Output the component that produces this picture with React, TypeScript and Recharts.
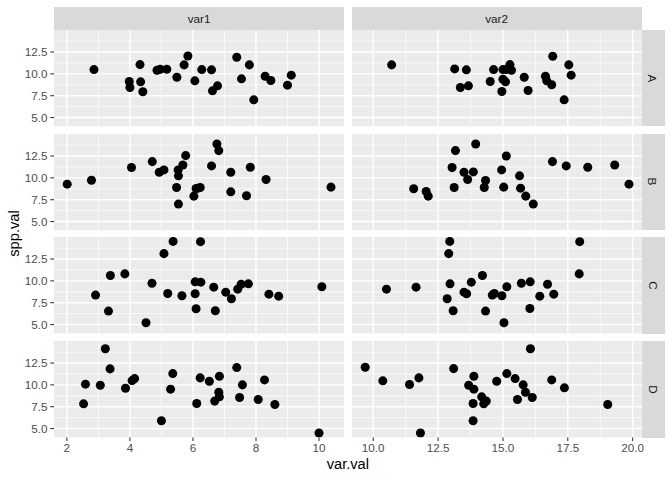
import React from 'react';
import { ScatterChart, Scatter, XAxis, YAxis, ZAxis, CartesianGrid } from 'recharts';

// ---- data ----
const rowLabels = ['A', 'B', 'C', 'D'];
const colLabels = ['var1', 'var2'];

const aVar1X = [2.86, 3.98, 4.0, 4.32, 4.34, 4.41, 4.86, 4.96, 5.17, 5.49, 5.72, 5.84, 6.06, 6.28, 6.59, 6.62, 6.78, 7.39, 7.54, 7.79, 7.93, 8.29, 8.47, 9.0, 9.12];
const aVar1Y = [10.49, 9.13, 8.44, 11.06, 9.09, 7.95, 10.42, 10.53, 10.53, 9.62, 11.03, 12.05, 9.2, 10.49, 10.46, 8.06, 8.63, 11.9, 9.43, 11.03, 7.03, 9.73, 9.24, 8.71, 9.85];
const aVar2X = [10.71, 13.14, 13.59, 13.36, 13.67, 14.64, 14.51, 15.0, 15.13, 15.27, 15.33, 15.0, 15.1, 14.96, 15.82, 15.97, 16.64, 16.69, 16.88, 16.92, 17.54, 17.63, 17.36];
const aVar2Y = [11.03, 10.57, 10.46, 8.44, 8.63, 10.49, 9.13, 10.49, 10.49, 11.06, 10.42, 9.39, 9.09, 7.98, 9.62, 8.1, 9.73, 9.2, 8.75, 12.02, 11.03, 9.85, 7.03];

const bVar1X = [2.01, 2.78, 4.05, 4.71, 4.93, 5.08, 5.48, 5.53, 5.54, 5.54, 5.68, 5.77, 6.03, 6.1, 6.16, 6.23, 6.59, 6.76, 6.82, 7.2, 7.2, 7.7, 7.82, 8.32, 10.38];
const bVar1Y = [9.28, 9.73, 11.18, 11.86, 10.65, 10.91, 8.9, 10.91, 10.23, 7.0, 11.48, 12.55, 7.91, 8.78, 8.82, 8.9, 11.37, 13.88, 13.12, 10.65, 8.4, 7.95, 11.22, 9.81, 8.94];
const bVar2X = [11.56, 12.04, 12.12, 13.04, 13.12, 13.17, 13.5, 13.64, 13.86, 13.95, 14.28, 14.33, 14.95, 15.03, 15.13, 15.64, 15.68, 15.88, 16.17, 16.91, 17.44, 18.27, 19.31, 19.86];
const bVar2Y = [8.75, 8.44, 7.91, 11.18, 8.9, 13.12, 10.65, 9.81, 10.68, 13.88, 8.9, 9.7, 10.91, 8.94, 12.51, 10.23, 8.82, 7.91, 7.0, 11.86, 11.37, 11.22, 11.48, 9.28];

const cVar1X = [2.91, 3.32, 3.38, 3.84, 4.51, 4.7, 5.08, 5.2, 5.37, 5.65, 6.07, 6.07, 6.1, 6.24, 6.25, 6.66, 6.71, 7.04, 7.22, 7.42, 7.53, 7.76, 8.41, 8.72, 10.09];
const cVar1Y = [8.37, 6.54, 10.61, 10.8, 5.21, 9.73, 13.12, 8.56, 14.52, 8.29, 9.89, 8.52, 6.81, 14.49, 9.85, 9.28, 6.58, 8.71, 7.95, 9.05, 9.62, 9.66, 8.48, 8.25, 9.32];
const cVar2X = [10.51, 11.65, 12.95, 12.91, 12.96, 12.85, 13.08, 13.5, 13.6, 13.78, 14.21, 14.33, 14.59, 14.67, 14.96, 15.04, 15.15, 15.71, 16.05, 16.04, 16.42, 16.72, 16.96, 17.96, 17.94];
const cVar2Y = [9.05, 9.28, 14.52, 13.12, 9.66, 7.95, 6.58, 8.71, 8.52, 9.85, 10.61, 6.54, 8.37, 8.56, 8.29, 5.21, 9.32, 9.73, 9.89, 6.84, 8.25, 9.62, 8.48, 14.49, 10.8];

const dVar1X = [2.53, 2.59, 3.06, 3.22, 3.37, 3.86, 4.07, 4.15, 5.0, 5.29, 5.36, 6.12, 6.23, 6.52, 6.69, 6.82, 6.84, 6.84, 7.39, 7.48, 7.57, 8.07, 8.27, 8.6, 10.0];
const dVar1Y = [7.83, 10.08, 9.96, 14.14, 11.83, 9.62, 10.49, 10.72, 5.89, 9.51, 11.29, 7.87, 10.8, 10.42, 8.14, 9.16, 8.63, 10.99, 11.98, 8.56, 10.0, 8.33, 10.57, 7.76, 4.49];
const dVar2X = [9.69, 10.37, 11.4, 11.76, 11.82, 13.1, 13.68, 13.88, 13.88, 13.85, 13.85, 14.18, 14.26, 14.36, 14.76, 15.15, 15.47, 15.56, 15.78, 15.87, 16.06, 16.13, 16.88, 17.37, 19.04];
const dVar2Y = [12.02, 10.46, 10.04, 10.8, 4.49, 11.86, 9.96, 10.99, 9.51, 7.87, 5.89, 8.63, 7.83, 8.14, 10.42, 11.29, 10.72, 8.33, 10.0, 9.16, 14.14, 8.56, 10.57, 9.66, 7.76];

const yTicks = [5, 7.5, 10, 12.5];
const yMinor = [6.25, 8.75, 11.25, 13.75];
const var1Ticks = [2, 4, 6, 8, 10];
const var1Minor = [3, 5, 7, 9];
const var2Ticks = [10, 12.5, 15, 17.5, 20];
const var2Minor = [11.25, 13.75, 16.25, 18.75];

// ---- layout ----
const FONT = '"Liberation Sans", Arial, Helvetica, sans-serif';
const PANEL_TOP = 30;
const PH = 96.4;
const GAP = 7.33;
const PW = 290.2;
const COL_LEFT = [54, 351.5];
const Y_W = 40;
const X_H = 30;
const X_PAD_R = 20;

const toPoints = (xs: number[], ys: number[]) => xs.map((x, i) => ({ x, y: ys[i] }));
const expand = (vals: number[]): [number, number] => {
  const mn = Math.min(...vals);
  const mx = Math.max(...vals);
  const r = mx - mn;
  return [mn - 0.05 * r, mx + 0.05 * r];
};

const panelData = [
  [toPoints(aVar1X, aVar1Y), toPoints(aVar2X, aVar2Y)],
  [toPoints(bVar1X, bVar1Y), toPoints(bVar2X, bVar2Y)],
  [toPoints(cVar1X, cVar1Y), toPoints(cVar2X, cVar2Y)],
  [toPoints(dVar1X, dVar1Y), toPoints(dVar2X, dVar2Y)],
];

const xDomains = [
  expand([...aVar1X, ...bVar1X, ...cVar1X, ...dVar1X]),
  expand([...aVar2X, ...bVar2X, ...cVar2X, ...dVar2X]),
];
const yDomain = expand([
  ...aVar1Y, ...bVar1Y, ...cVar1Y, ...dVar1Y,
  ...aVar2Y, ...bVar2Y, ...cVar2Y, ...dVar2Y,
]);
const xTicksByCol = [var1Ticks, var2Ticks];
const xMinorByCol = [var1Minor, var2Minor];
const xFmtByCol = [(v: number) => String(v), (v: number) => v.toFixed(1)];

const tickStyle = { fontSize: 11.7, fill: '#4D4D4D', fontFamily: FONT };
const tickLineStyle = { stroke: '#333333', strokeWidth: 1.07 };

function Panel({ row, col }: { row: number; col: number }) {
  const showX = row === 3;
  const showY = col === 0;
  const padR = showX ? X_PAD_R : 0;
  const w = PW + (showY ? Y_W : 0) + padR;
  const h = PH + (showX ? X_H : 0);
  const left = COL_LEFT[col] - (showY ? Y_W : 0);
  const top = PANEL_TOP + row * (PH + GAP);
  return (
    <div style={{ position: 'absolute', left, top }}>
      <ScatterChart width={w} height={h} margin={{ top: 0, right: padR, bottom: 0, left: 0 }}>
        <CartesianGrid
          horizontalValues={yMinor}
          verticalValues={xMinorByCol[col]}
          fill="#EBEBEB"
          fillOpacity={1}
          stroke="#FFFFFF"
          strokeWidth={0.71}
        />
        <CartesianGrid
          horizontalValues={yTicks}
          verticalValues={xTicksByCol[col]}
          fill="none"
          stroke="#FFFFFF"
          strokeWidth={1.42}
        />
        <XAxis
          type="number"
          dataKey="x"
          domain={xDomains[col]}
          ticks={xTicksByCol[col]}
          interval={0}
          allowDataOverflow
          hide={!showX}
          height={X_H}
          tickSize={3.67}
          tickMargin={2.93}
          axisLine={false}
          tickLine={tickLineStyle}
          tick={tickStyle}
          tickFormatter={xFmtByCol[col]}
        />
        <YAxis
          type="number"
          dataKey="y"
          domain={yDomain}
          ticks={yTicks}
          interval={0}
          allowDataOverflow
          hide={!showY}
          width={Y_W}
          tickSize={3.67}
          tickMargin={2.93}
          axisLine={false}
          tickLine={tickLineStyle}
          tick={tickStyle}
          tickFormatter={(v: number) => v.toFixed(1)}
        />
        <ZAxis range={[30, 30]} />
        <Scatter data={panelData[row][col]} fill="#000000" isAnimationActive={false} />
      </ScatterChart>
    </div>
  );
}

export default function App() {
  const stripFont = { fontFamily: FONT, fontSize: 11.7, color: '#1A1A1A' };
  return (
    <div
      style={{
        position: 'absolute',
        left: 0,
        top: 0,
        width: 672,
        height: 480,
        background: '#FFFFFF',
        fontFamily: FONT,
        overflow: 'hidden',
      }}
    >
      {colLabels.map((lab, c) => (
        <div
          key={lab}
          style={{
            position: 'absolute',
            left: COL_LEFT[c],
            top: 7.33,
            width: PW,
            height: PANEL_TOP - 7.33,
            background: '#D9D9D9',
            display: 'flex',
            alignItems: 'center',
            justifyContent: 'center',
            ...stripFont,
          }}
        >
          {lab}
        </div>
      ))}
      {rowLabels.map((lab, r) => (
        <div
          key={lab}
          style={{
            position: 'absolute',
            left: COL_LEFT[1] + PW,
            top: PANEL_TOP + r * (PH + GAP),
            width: 23,
            height: PH,
            background: '#D9D9D9',
            display: 'flex',
            alignItems: 'center',
            justifyContent: 'center',
            ...stripFont,
          }}
        >
          <span style={{ display: 'inline-block', transform: 'rotate(90deg)' }}>{lab}</span>
        </div>
      ))}
      {rowLabels.map((_, r) =>
        colLabels.map((__, c) => <Panel key={`${r}-${c}`} row={r} col={c} />)
      )}
      <div
        style={{
          position: 'absolute',
          left: COL_LEFT[0],
          width: COL_LEFT[1] + PW - COL_LEFT[0],
          top: 456.4,
          height: 17,
          lineHeight: '17px',
          textAlign: 'center',
          fontSize: 14.67,
          color: '#000000',
        }}
      >
        var.val
      </div>
      <div
        style={{
          position: 'absolute',
          left: 13.5 - 50,
          top: 233.75 - 8.5,
          width: 100,
          height: 17,
          lineHeight: '17px',
          textAlign: 'center',
          fontSize: 14.67,
          color: '#000000',
          transform: 'rotate(-90deg)',
        }}
      >
        spp.val
      </div>
    </div>
  );
}
